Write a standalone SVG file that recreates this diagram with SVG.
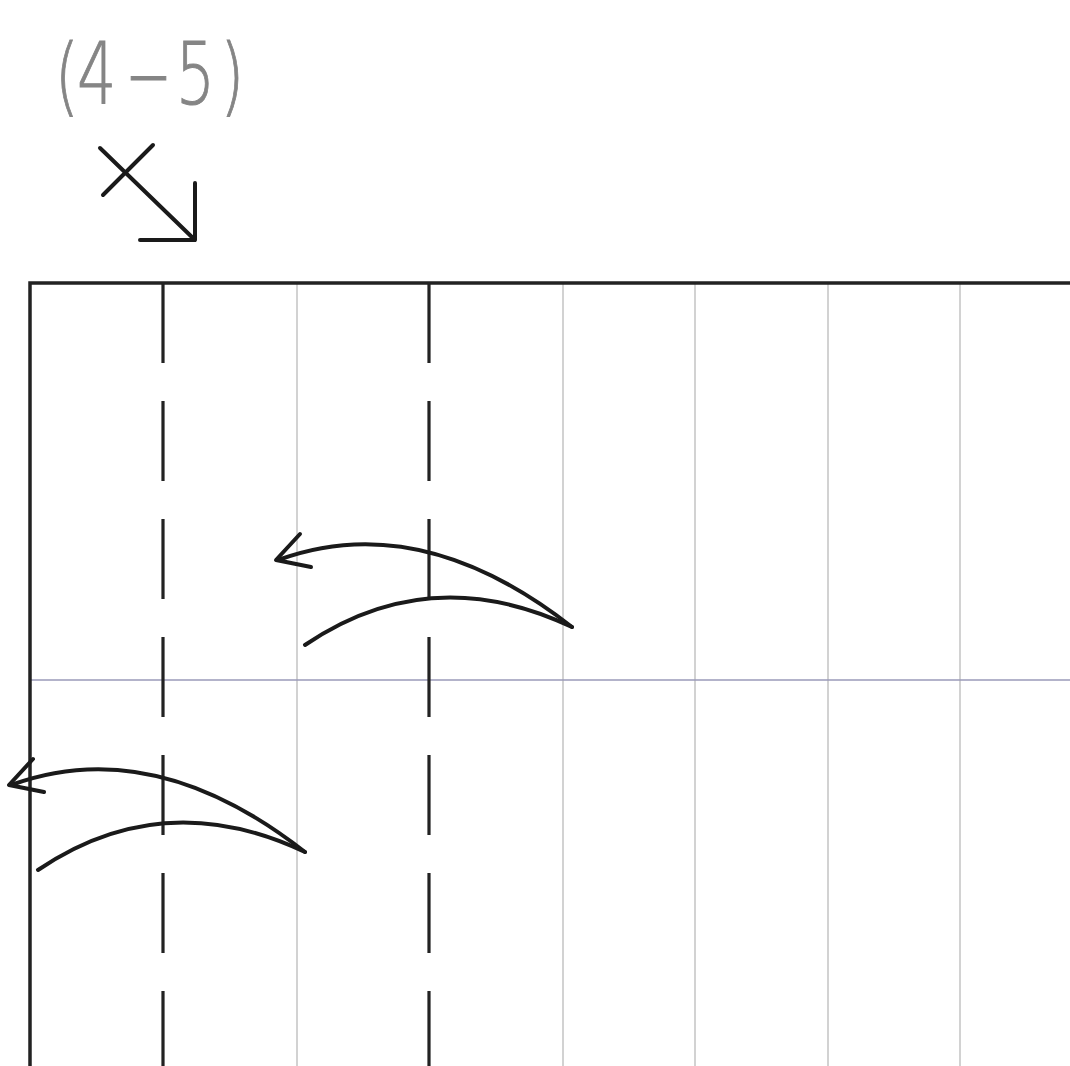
<svg xmlns="http://www.w3.org/2000/svg" width="1070" height="1066" viewBox="0 0 1070 1066">
<style>
.thin{stroke:#c4c4c4;stroke-width:1.5;fill:none}
.dash{stroke:#222;stroke-width:3.2;stroke-dasharray:80 38;fill:none}
.edge{stroke:#222;stroke-width:3.5;fill:none}
.arr{stroke:#1a1a1a;stroke-width:4;fill:none;stroke-linecap:round;stroke-linejoin:round}
.lbl{font-family:"DejaVu Sans","Liberation Sans",sans-serif;font-weight:200;font-size:86px;fill:#858585;stroke:#858585;stroke-width:1}
</style>
<rect width="1070" height="1066" fill="#fff"/>
<g id="label">
<text class="lbl" transform="scale(0.72,1)"><tspan x="76" y="105">(</tspan><tspan x="107" y="104">4</tspan><tspan x="244" y="104">5</tspan><tspan x="306" y="105">)</tspan></text>
<text class="lbl" x="127" y="102">–</text>
</g>
<g id="symbol" class="arr">
<path d="M100,148 L195,240 M153,145 L103,195 M195,183 L195,240 L140,240"/>
</g>
<g id="grid">
<path class="thin" d="M297,284V1066 M563,284V1066 M695,284V1066 M828,284V1066 M960,284V1066"/>
<path d="M30,680H1070" stroke="#9a9ab8" stroke-width="1.5"/>
<path class="dash" d="M163,283V1066 M429,283V1066"/>
<path class="edge" d="M1070,283H30V1066"/>
</g>
<g id="connectors">
<g id="arrow1" class="arr">
<path d="M572,627 Q420,508 278,560"/>
<path d="M300,534 L276,560 L311,567"/>
<path d="M305,645 Q430,560 572,627"/>
</g>
<g id="arrow2" class="arr" transform="translate(-267,225)">
<path d="M572,627 Q420,508 278,560"/>
<path d="M300,534 L276,560 L311,567"/>
<path d="M305,645 Q430,560 572,627"/>
</g>
</g>
</svg>
